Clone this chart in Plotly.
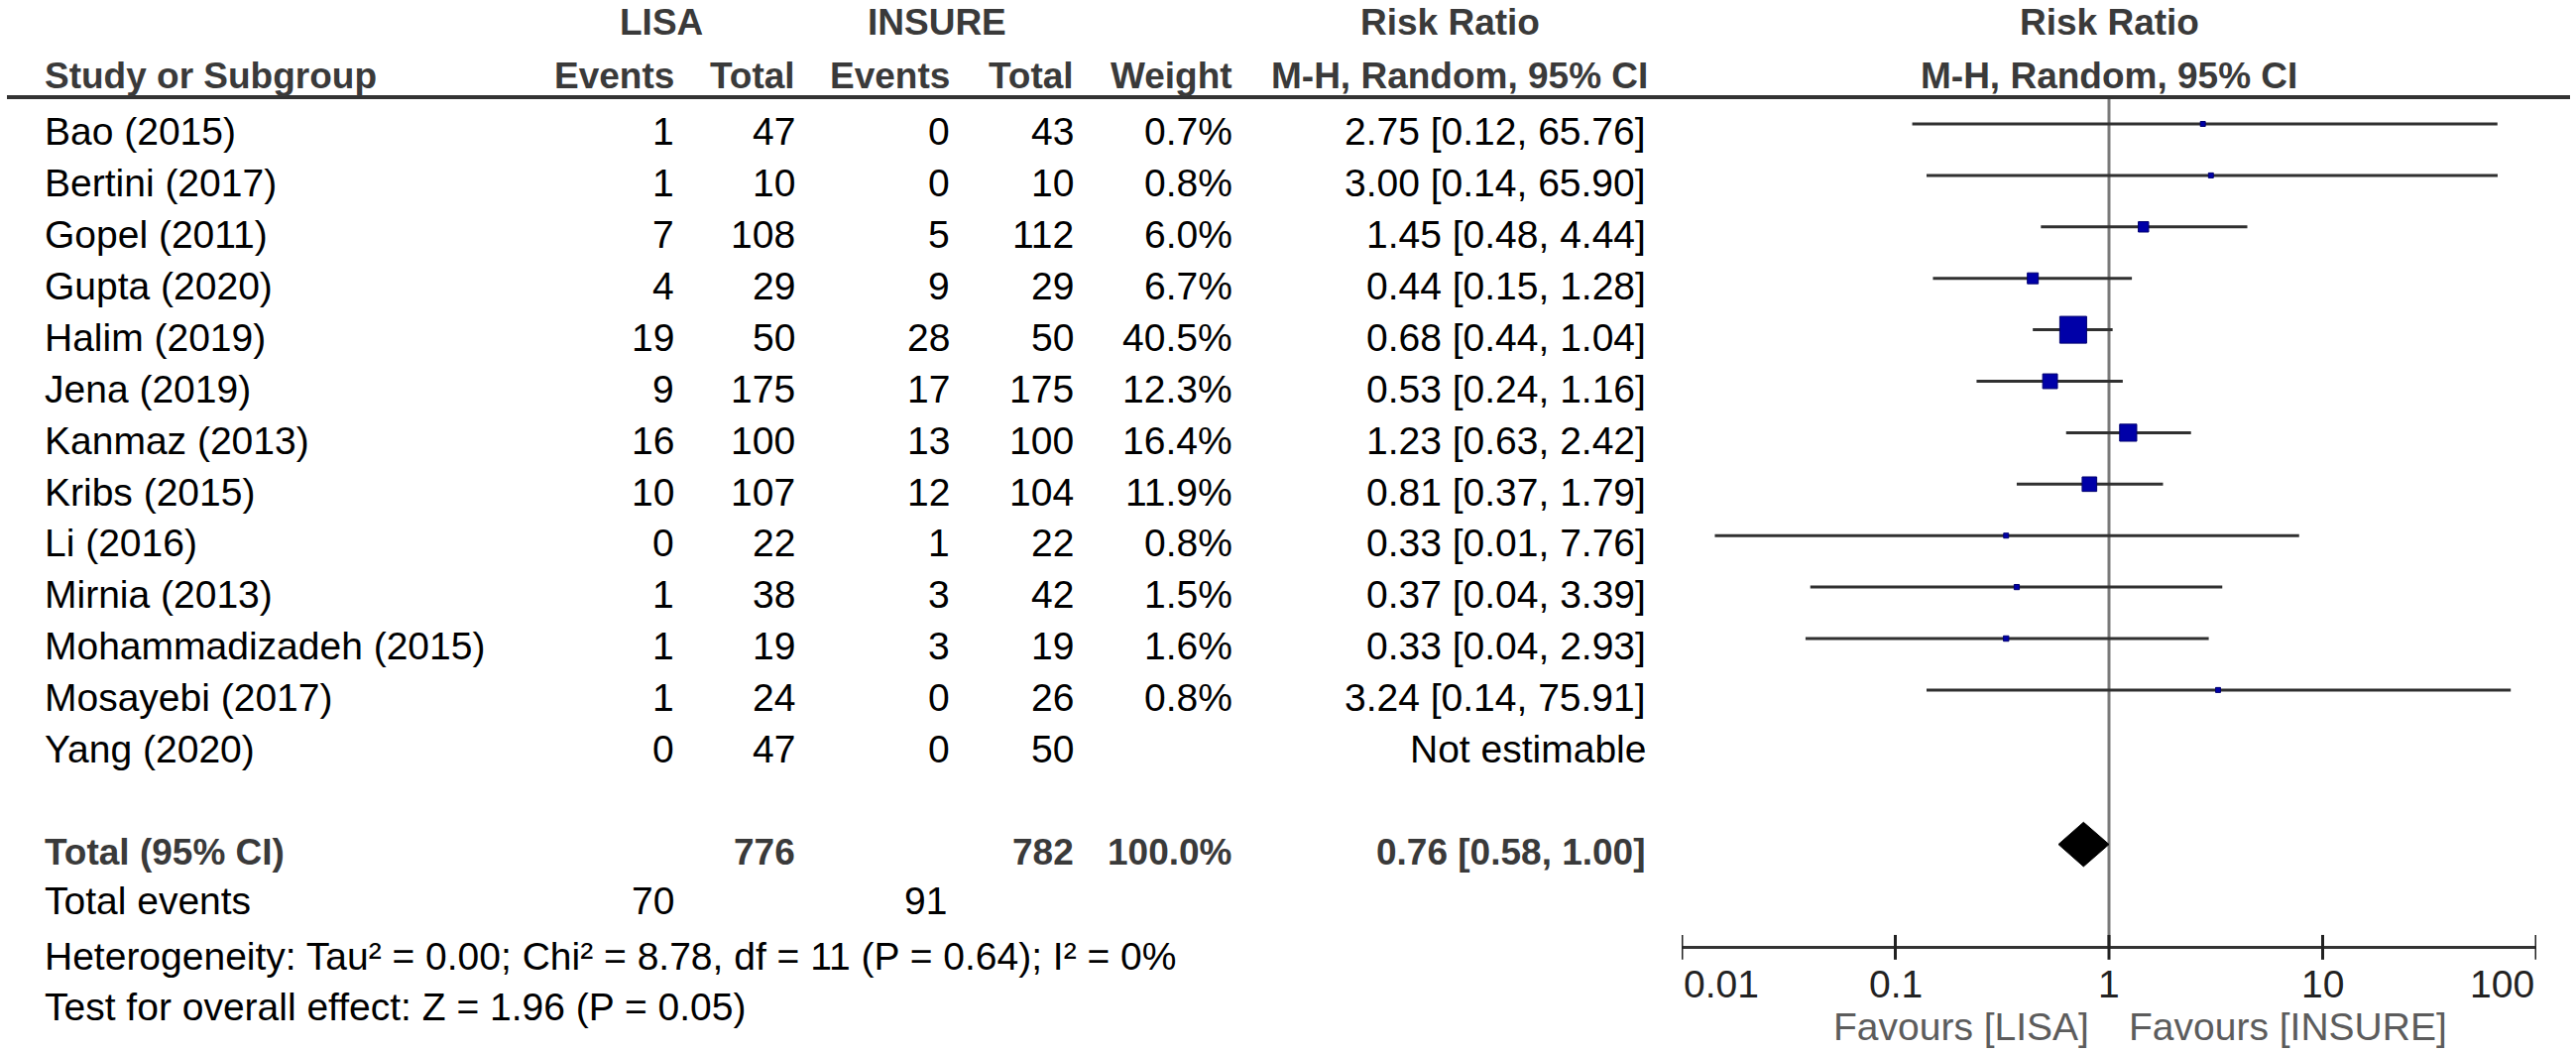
import math
import plotly.graph_objects as go

# ---------------- data ----------------
studies = ["Bao (2015)", "Bertini (2017)", "Gopel (2011)", "Gupta (2020)", "Halim (2019)",
           "Jena (2019)", "Kanmaz (2013)", "Kribs (2015)", "Li (2016)", "Mirnia (2013)",
           "Mohammadizadeh (2015)", "Mosayebi (2017)", "Yang (2020)"]
lisa_events = [1, 1, 7, 4, 19, 9, 16, 10, 0, 1, 1, 1, 0]
lisa_total = [47, 10, 108, 29, 50, 175, 100, 107, 22, 38, 19, 24, 47]
insure_events = [0, 0, 5, 9, 28, 17, 13, 12, 1, 3, 3, 0, 0]
insure_total = [43, 10, 112, 29, 50, 175, 100, 104, 22, 42, 19, 26, 50]
weights = [0.7, 0.8, 6.0, 6.7, 40.5, 12.3, 16.4, 11.9, 0.8, 1.5, 1.6, 0.8, None]
rr = [2.75, 3.00, 1.45, 0.44, 0.68, 0.53, 1.23, 0.81, 0.33, 0.37, 0.33, 3.24, None]
ci_low = [0.12, 0.14, 0.48, 0.15, 0.44, 0.24, 0.63, 0.37, 0.0143, 0.04, 0.038, 0.14, None]
ci_high = [65.76, 65.90, 4.44, 1.28, 1.04, 1.16, 2.42, 1.79, 7.76, 3.39, 2.93, 75.91, None]

total_lisa = 776
total_insure = 782
total_weight = 100.0
total_rr = 0.76
total_low = 0.58
total_high = 1.00
events_lisa = 70
events_insure = 91
heterogeneity = "Heterogeneity: Tau² = 0.00; Chi² = 8.78, df = 11 (P = 0.64); I² = 0%"
overall = "Test for overall effect: Z = 1.96 (P = 0.05)"
tick_vals = [0.01, 0.1, 1, 10, 100]
tick_text = ["0.01", "0.1", "1", "10", "100"]
favours_left = "Favours [LISA]"
favours_right = "Favours [INSURE]"

# ---------------- geometry ----------------
W, H = 2598, 1061
ROW0, ROWH = 125.0, 51.9          # pixel y of first row, row height


def prow(ypx):
    return (ypx - ROW0) / ROWH


def px(xpx):
    return xpx / W


FONT = "Liberation Sans, Arial, sans-serif"
FS_B = 37    # bold header text
FS = 39      # regular text
HDR_COL = "#3a3a3a"
TXT_OFF = 0.15  # text centre sits a little below the CI line

n = len(studies)
rows = list(range(n))
total_row = 14
axis_row = 16

fig = go.Figure()

# reference line at RR = 1
fig.add_trace(go.Scatter(x=[1, 1], y=[prow(98), axis_row], mode="lines",
                         line=dict(color="#7a7a7a", width=3), hoverinfo="skip"))

# confidence interval lines
cx, cy = [], []
for i in rows:
    if rr[i] is None:
        continue
    cx += [ci_low[i], ci_high[i], None]
    cy += [i, i, None]
fig.add_trace(go.Scatter(x=cx, y=cy, mode="lines",
                         line=dict(color="#303030", width=3), hoverinfo="skip"))

# study squares, area proportional to weight
mx, my, ms = [], [], []
for i in rows:
    if rr[i] is None:
        continue
    mx.append(rr[i])
    my.append(i)
    ms.append(max(5, 4.25 * weights[i] ** 0.5))
fig.add_trace(go.Scatter(x=mx, y=my, mode="markers",
                         marker=dict(symbol="square", size=ms, color="#0000A8", opacity=1,
                                     line=dict(color="#000070", width=1)),
                         hoverinfo="skip"))

# pooled diamond
dh = 0.43
fig.add_trace(go.Scatter(x=[total_low, total_rr, total_high, total_rr, total_low],
                         y=[total_row, total_row - dh, total_row, total_row + dh, total_row],
                         mode="lines", fill="toself", fillcolor="black",
                         line=dict(color="black", width=1), hoverinfo="skip"))

# axis line and ticks
fig.add_trace(go.Scatter(x=[tick_vals[0], tick_vals[-1]], y=[axis_row, axis_row], mode="lines",
                         line=dict(color="#333333", width=3), hoverinfo="skip"))
tx, ty = [], []
for v in tick_vals:
    tx += [v, v, None]
    ty += [axis_row - 0.24, axis_row + 0.24, None]
fig.add_trace(go.Scatter(x=tx, y=ty, mode="lines",
                         line=dict(color="#222222", width=3), hoverinfo="skip"))

ann = []


def text(x, y, s, anchor="left", bold=False, color="black", xref="paper"):
    ann.append(dict(x=x, y=y, xref=xref, yref="y", text=("<b>%s</b>" % s) if bold else s,
                    showarrow=False, xanchor=anchor, yanchor="middle",
                    font=dict(family=FONT, size=FS_B if bold else FS, color=color)))


# header rows
h1, h2 = prow(22), prow(76)
text(px(667), h1, "LISA", "center", True, HDR_COL)
text(px(945), h1, "INSURE", "center", True, HDR_COL)
text(px(1462), h1, "Risk Ratio", "center", True, HDR_COL)
text(px(2127), h1, "Risk Ratio", "center", True, HDR_COL)
text(px(43), h2, "Study or Subgroup", "left", True, HDR_COL)
text(px(682), h2, "Events", "right", True, HDR_COL)
text(px(804), h2, "Total", "right", True, HDR_COL)
text(px(960), h2, "Events", "right", True, HDR_COL)
text(px(1085), h2, "Total", "right", True, HDR_COL)
text(px(1245), h2, "Weight", "right", True, HDR_COL)
text(px(1664), h2, "M-H, Random, 95% CI", "right", True, HDR_COL)
text(px(2127), h2, "M-H, Random, 95% CI", "center", True, HDR_COL)

# study rows
for i in rows:
    y = i + TXT_OFF
    text(px(43), y, studies[i])
    text(px(682), y, str(lisa_events[i]), "right")
    text(px(804), y, str(lisa_total[i]), "right")
    text(px(960), y, str(insure_events[i]), "right")
    text(px(1085), y, str(insure_total[i]), "right")
    if weights[i] is not None:
        text(px(1245), y, "%.1f%%" % weights[i], "right")
        text(px(1662), y, "%.2f [%.2f, %.2f]" % (rr[i], ci_low[i], ci_high[i]), "right")
    else:
        text(px(1662), y, "Not estimable", "right")

# total rows
yt = total_row + TXT_OFF
text(px(43), yt, "Total (95% CI)", "left", True, HDR_COL)
text(px(804), yt, str(total_lisa), "right", True, HDR_COL)
text(px(1085), yt, str(total_insure), "right", True, HDR_COL)
text(px(1245), yt, "%.1f%%" % total_weight, "right", True, HDR_COL)
text(px(1662), yt, "%.2f [%.2f, %.2f]" % (total_rr, total_low, total_high), "right", True, HDR_COL)

ye = prow(908)
text(px(43), ye, "Total events")
text(px(682), ye, str(events_lisa), "right")
text(px(957), ye, str(events_insure), "right")
text(px(43), prow(964), heterogeneity)
text(px(43), prow(1015), overall)

# axis tick labels
yl = prow(992)
for v, s in zip(tick_vals, tick_text):
    if v == tick_vals[0]:
        anc = "left"
    elif v == tick_vals[-1]:
        anc = "right"
    else:
        anc = "center"
    ann.append(dict(x=math.log10(v), y=yl, xref="x", yref="y", text=s,
                    showarrow=False, xanchor=anc, yanchor="middle",
                    font=dict(family=FONT, size=FS, color="#222222")))

yf = prow(1035)
ann.append(dict(x=0, y=yf, xref="x", yref="y", text=favours_left, showarrow=False,
                xanchor="right", xshift=-18, yanchor="middle",
                font=dict(family=FONT, size=FS, color="#5c5c5c")))
ann.append(dict(x=0, y=yf, xref="x", yref="y", text=favours_right, showarrow=False,
                xanchor="left", xshift=18, yanchor="middle",
                font=dict(family=FONT, size=FS, color="#5c5c5c")))

fig.update_layout(
    width=W, height=H, margin=dict(l=0, r=0, t=0, b=0),
    paper_bgcolor="white", plot_bgcolor="white", showlegend=False,
    xaxis=dict(type="log", range=[-2, 2], domain=[px(1696), px(2558)], visible=False),
    yaxis=dict(range=[prow(H), prow(0)], domain=[0, 1], visible=False),
    annotations=ann,
    shapes=[dict(type="line", xref="paper", yref="y", x0=px(7), x1=px(2592),
                 y0=prow(98), y1=prow(98), line=dict(color="#333333", width=4))],
)

fig.write_html("out.html", config={"displayModeBar": False},
               post_script="document.body.style.margin='0';document.body.style.overflow='hidden';")
